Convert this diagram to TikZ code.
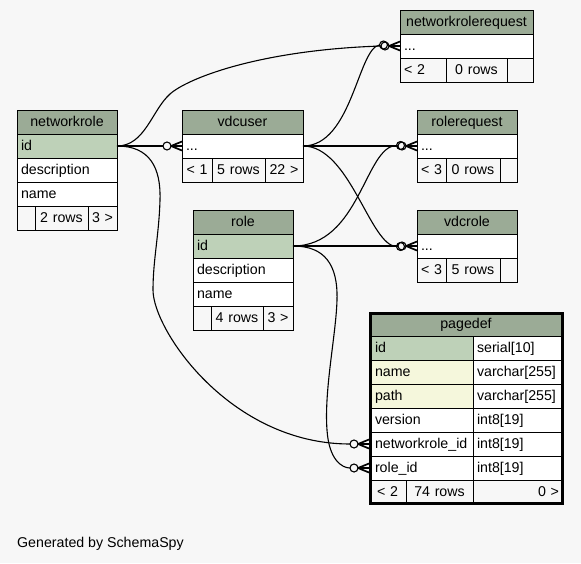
\documentclass[tikz,border=0pt]{standalone}
\usepackage{fontspec}
\setmainfont{Liberation Sans}
\newcommand\tabfont{\fontsize{14.2}{16}\selectfont}
% one table cell: [style]{name}{left}{top}{width}{text}
\newcommand\tcell[6][]{%
  \pgfmathsetmacro\tcellw{#5-8}%
  \node[cell, align=left, #1, text width=\tcellw pt] (#2) at (#3,#4) {#6};}
% pagedef columns sit inside a heavy frame, so their text starts a bit further in
\newcommand\pad[1]{\hspace*{2pt}#1}
\definecolor{bgcol}{HTML}{F7F7F7}
\definecolor{hdrcol}{HTML}{9BAB96}
\definecolor{pkcol}{HTML}{BED1B8}
\definecolor{idxcol}{HTML}{F5F7DC}
\tikzset{
  cell/.style={draw=black, line width=1pt, anchor=north west, minimum height=24pt,
    inner xsep=4pt, inner ysep=0pt, text height=11pt, text depth=3pt,
    outer sep=0pt, fill=white, font=\tabfont},
  head/.style={fill=hdrcol, align=center},
  key/.style={fill=pkcol},
  idx/.style={fill=idxcol},
  foot/.style={fill=bgcol},
  mid/.style={align=center},
  fk/.style={draw=black, line width=1.1pt},
  crowline/.style={draw=black, line width=1.7pt},
  pics/crow/.style={code={\draw[crowline] (-11,0) -- (0,0) (-11,0) -- (0,-4.5) (-11,0) -- (0,4.5);}},
  pics/ring/.style={code={\draw[fk] (-15,0) circle[radius=4pt];}},
}
\begin{document}
\begin{tikzpicture}[x=1pt,y=-1pt]
\fill[bgcol] (0,0) rectangle (581,563);
\useasboundingbox (0,0) rectangle (581,563);

% networkrole
\tcell[head]{nr-h}{17}{110}{100}{networkrole}
\tcell[key]{nr-id}{17}{134}{100}{id}
\tcell{nr-desc}{17}{158}{100}{description}
\tcell{nr-name}{17}{182}{100}{name}
\tcell[foot]{nr-f1}{17}{206}{18}{}
\tcell[foot,mid]{nr-f2}{35}{206}{53}{2 rows}
\tcell[foot,mid]{nr-f3}{88}{206}{29}{3 >}

% vdcuser
\tcell[head]{vu-h}{182}{110}{121}{vdcuser}
\tcell{vu-d}{182}{134}{121}{...}
\tcell[foot,mid]{vu-f1}{182}{158}{30}{< 1}
\tcell[foot,mid]{vu-f2}{212}{158}{53}{5 rows}
\tcell[foot,mid]{vu-f3}{265}{158}{38}{22 >}

% networkrolerequest
\tcell[head]{nrr-h}{400}{10}{133}{networkrolerequest}
\tcell{nrr-d}{400}{34}{133}{...}
\tcell[foot]{nrr-f1}{400}{58}{46}{< 2}
\tcell[foot,mid]{nrr-f2}{446}{58}{61}{0 rows}
\tcell[foot]{nrr-f3}{507}{58}{26}{}

% rolerequest
\tcell[head]{rr-h}{417}{110}{100}{rolerequest}
\tcell{rr-d}{417}{134}{100}{...}
\tcell[foot,mid]{rr-f1}{417}{158}{29}{< 3}
\tcell[foot,mid]{rr-f2}{446}{158}{54}{0 rows}
\tcell[foot]{rr-f3}{500}{158}{17}{}

% vdcrole
\tcell[head]{vr-h}{417}{210}{100}{vdcrole}
\tcell{vr-d}{417}{234}{100}{...}
\tcell[foot,mid]{vr-f1}{417}{258}{29}{< 3}
\tcell[foot,mid]{vr-f2}{446}{258}{54}{5 rows}
\tcell[foot]{vr-f3}{500}{258}{17}{}

% role
\tcell[head]{ro-h}{193}{210}{100}{role}
\tcell[key]{ro-id}{193}{234}{100}{id}
\tcell{ro-desc}{193}{258}{100}{description}
\tcell{ro-name}{193}{282}{100}{name}
\tcell[foot]{ro-f1}{193}{306}{18}{}
\tcell[foot,mid]{ro-f2}{211}{306}{52}{4 rows}
\tcell[foot,mid]{ro-f3}{263}{306}{30}{3 >}

% pagedef
\tcell[head]{pg-h}{369}{312}{194}{pagedef}
\tcell[key]{pg-id}{369}{336}{104}{\pad{id}}
\tcell{pg-idt}{473}{336}{90}{serial[10]}
\tcell[idx]{pg-name}{369}{360}{104}{\pad{name}}
\tcell{pg-namet}{473}{360}{90}{varchar[255]}
\tcell[idx]{pg-path}{369}{384}{104}{\pad{path}}
\tcell{pg-patht}{473}{384}{90}{varchar[255]}
\tcell{pg-ver}{369}{408}{104}{\pad{version}}
\tcell{pg-vert}{473}{408}{90}{int8[19]}
\tcell{pg-nr}{369}{432}{104}{\pad{networkrole\_id}}
\tcell{pg-nrt}{473}{432}{90}{int8[19]}
\tcell{pg-ro}{369}{456}{104}{\pad{role\_id}}
\tcell{pg-rot}{473}{456}{90}{int8[19]}
\tcell[foot,mid]{pg-f1}{369}{480}{37}{< 2}
\tcell[foot,mid]{pg-f2}{406}{480}{67}{74 rows}
\tcell[foot,align=right]{pg-f3}{473}{480}{90}{0 >}
\draw[line width=3pt] ([shift={(1,1)}]pg-h.north west) rectangle ([shift={(-1,-1)}]pg-f3.south east);

% foreign keys
\draw[fk] (nr-id.east) .. controls (145,146) and (152,110) .. (170,94)
  .. controls (188,78) and (260,50) .. ([xshift=-19pt]nrr-d.west);
\draw[fk] (vu-d.east) .. controls (352,146) and (358,48) .. ([xshift=-20.5pt,yshift=1pt]nrr-d.west);
\draw[fk] (nr-id.east) -- ([xshift=-19pt]vu-d.west);
\draw[fk] (nr-id.east) .. controls (150,146) and (161,168) .. (160,200)
  .. controls (159,235) and (153,260) .. (153,290)
  .. controls (153,330) and (230,444) .. ([xshift=-19pt]pg-nr.west);
\draw[fk] (ro-id.east) .. controls (325,246) and (338,265) .. (337,300)
  .. controls (336,335) and (324,390) .. (327,430)
  .. controls (329,460) and (342,468) .. ([xshift=-19pt]pg-ro.west);
\draw[fk] (vu-d.east) -- ([xshift=-19pt]rr-d.west);
\draw[fk] (vu-d.east) .. controls (350,146) and (370,246) .. ([xshift=-20.5pt,yshift=-0.5pt]vr-d.west);
\draw[fk] (ro-id.east) .. controls (360,246) and (365,146) .. ([xshift=-20.5pt,yshift=0.5pt]rr-d.west);
\draw[fk] (ro-id.east) -- ([xshift=-19pt]vr-d.west);

% crow's feet with optional rings
\pic at (nrr-d.west) {crow};
\pic at (nrr-d.west) {ring};
\pic at ([xshift=-1.5pt,yshift=1pt]nrr-d.west) {ring};
\pic at (vu-d.west) {crow};
\pic at (vu-d.west) {ring};
\pic at (rr-d.west) {crow};
\pic at (rr-d.west) {ring};
\pic at ([xshift=-1.5pt,yshift=0.5pt]rr-d.west) {ring};
\pic at (vr-d.west) {crow};
\pic at (vr-d.west) {ring};
\pic at ([xshift=-1.5pt,yshift=-0.5pt]vr-d.west) {ring};
\pic at (pg-nr.west) {crow};
\pic at (pg-nr.west) {ring};
\pic at (pg-ro.west) {crow};
\pic at (pg-ro.west) {ring};

\node[font=\tabfont, anchor=base west, inner sep=0pt] (gen) at (17,547) {Generated by SchemaSpy};
\end{tikzpicture}
\end{document}
